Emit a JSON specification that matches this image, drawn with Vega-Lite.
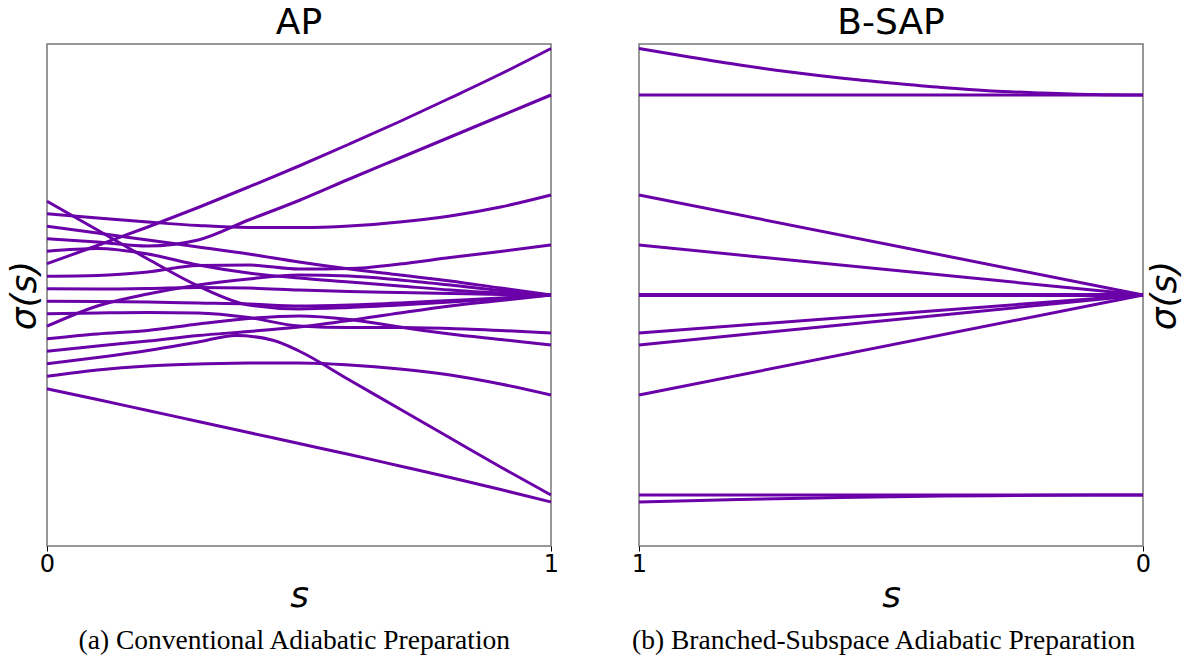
{
  "$schema": "https://vega.github.io/schema/vega-lite/v6.json",
  "background": "white",
  "padding": {"left": 5, "top": 3, "right": 2, "bottom": 2},
  "spacing": 70,
  "config": {
    "view": {"stroke": "#777", "strokeWidth": 1.5},
    "font": "DejaVu Sans",
    "title": {"font": "DejaVu Sans", "fontSize": 36, "fontWeight": "normal", "color": "#000"},
    "axis": {"grid": false, "domain": false, "labelFont": "DejaVu Sans", "titleFont": "DejaVu Sans", "labelColor": "#000", "titleColor": "#000", "titleFontWeight": "normal"}
  },
  "datasets": {
    "ap": [
      {"k":"L1","s":0,"v":1.875},{"k":"L1","s":0.1,"v":1.30},{"k":"L1","s":0.2,"v":0.72},{"k":"L1","s":0.3,"v":0.18},{"k":"L1","s":0.4,"v":-0.20},{"k":"L1","s":0.5,"v":-0.28},{"k":"L1","s":0.6,"v":-0.25},{"k":"L1","s":0.7,"v":-0.20},{"k":"L1","s":0.8,"v":-0.14},{"k":"L1","s":0.9,"v":-0.07},{"k":"L1","s":1,"v":0},
      {"k":"L2","s":0,"v":1.625},{"k":"L2","s":0.1,"v":1.54},{"k":"L2","s":0.2,"v":1.46},{"k":"L2","s":0.3,"v":1.39},{"k":"L2","s":0.4,"v":1.35},{"k":"L2","s":0.5,"v":1.35},{"k":"L2","s":0.6,"v":1.38},{"k":"L2","s":0.7,"v":1.46},{"k":"L2","s":0.8,"v":1.58},{"k":"L2","s":0.9,"v":1.76},{"k":"L2","s":1,"v":2.0},
      {"k":"L3","s":0,"v":1.375},{"k":"L3","s":0.1,"v":1.24},{"k":"L3","s":0.2,"v":1.10},{"k":"L3","s":0.3,"v":0.96},{"k":"L3","s":0.4,"v":0.82},{"k":"L3","s":0.5,"v":0.66},{"k":"L3","s":0.6,"v":0.52},{"k":"L3","s":0.7,"v":0.40},{"k":"L3","s":0.8,"v":0.28},{"k":"L3","s":0.9,"v":0.14},{"k":"L3","s":1,"v":0},
      {"k":"L4","s":0,"v":1.125},{"k":"L4","s":0.1,"v":1.06},{"k":"L4","s":0.2,"v":0.98},{"k":"L4","s":0.3,"v":1.10},{"k":"L4","s":0.4,"v":1.50},{"k":"L4","s":0.5,"v":1.89},{"k":"L4","s":0.6,"v":2.32},{"k":"L4","s":0.7,"v":2.74},{"k":"L4","s":0.8,"v":3.16},{"k":"L4","s":0.9,"v":3.58},{"k":"L4","s":1,"v":4.0},
      {"k":"L5","s":0,"v":0.875},{"k":"L5","s":0.1,"v":0.93},{"k":"L5","s":0.2,"v":0.82},{"k":"L5","s":0.3,"v":0.60},{"k":"L5","s":0.4,"v":0.44},{"k":"L5","s":0.5,"v":0.34},{"k":"L5","s":0.6,"v":0.26},{"k":"L5","s":0.7,"v":0.18},{"k":"L5","s":0.8,"v":0.10},{"k":"L5","s":0.9,"v":0.04},{"k":"L5","s":1,"v":0},
      {"k":"L6","s":0,"v":0.625},{"k":"L6","s":0.1,"v":0.99},{"k":"L6","s":0.2,"v":1.36},{"k":"L6","s":0.3,"v":1.75},{"k":"L6","s":0.4,"v":2.16},{"k":"L6","s":0.5,"v":2.58},{"k":"L6","s":0.6,"v":3.02},{"k":"L6","s":0.7,"v":3.47},{"k":"L6","s":0.8,"v":3.94},{"k":"L6","s":0.9,"v":4.42},{"k":"L6","s":1,"v":4.93},
      {"k":"L7","s":0,"v":0.375},{"k":"L7","s":0.1,"v":0.39},{"k":"L7","s":0.2,"v":0.46},{"k":"L7","s":0.3,"v":0.59},{"k":"L7","s":0.4,"v":0.60},{"k":"L7","s":0.5,"v":0.52},{"k":"L7","s":0.6,"v":0.53},{"k":"L7","s":0.7,"v":0.62},{"k":"L7","s":0.8,"v":0.75},{"k":"L7","s":0.9,"v":0.87},{"k":"L7","s":1,"v":1.0},
      {"k":"L8","s":0,"v":0.125},{"k":"L8","s":0.1,"v":0.12},{"k":"L8","s":0.2,"v":0.13},{"k":"L8","s":0.3,"v":0.15},{"k":"L8","s":0.4,"v":0.14},{"k":"L8","s":0.5,"v":0.10},{"k":"L8","s":0.6,"v":0.07},{"k":"L8","s":0.7,"v":0.05},{"k":"L8","s":0.8,"v":0.03},{"k":"L8","s":0.9,"v":0.01},{"k":"L8","s":1,"v":0},
      {"k":"L9","s":0,"v":-0.125},{"k":"L9","s":0.1,"v":-0.13},{"k":"L9","s":0.2,"v":-0.14},{"k":"L9","s":0.3,"v":-0.16},{"k":"L9","s":0.4,"v":-0.18},{"k":"L9","s":0.5,"v":-0.22},{"k":"L9","s":0.6,"v":-0.20},{"k":"L9","s":0.7,"v":-0.16},{"k":"L9","s":0.8,"v":-0.11},{"k":"L9","s":0.9,"v":-0.06},{"k":"L9","s":1,"v":0},
      {"k":"L10","s":0,"v":-0.375},{"k":"L10","s":0.1,"v":-0.36},{"k":"L10","s":0.2,"v":-0.35},{"k":"L10","s":0.3,"v":-0.36},{"k":"L10","s":0.4,"v":-0.45},{"k":"L10","s":0.5,"v":-0.62},{"k":"L10","s":0.6,"v":-0.65},{"k":"L10","s":0.7,"v":-0.65},{"k":"L10","s":0.8,"v":-0.67},{"k":"L10","s":0.9,"v":-0.71},{"k":"L10","s":1,"v":-0.76},
      {"k":"L11","s":0,"v":-0.625},{"k":"L11","s":0.1,"v":-0.22},{"k":"L11","s":0.2,"v":0.02},{"k":"L11","s":0.3,"v":0.20},{"k":"L11","s":0.4,"v":0.32},{"k":"L11","s":0.5,"v":0.40},{"k":"L11","s":0.6,"v":0.38},{"k":"L11","s":0.7,"v":0.30},{"k":"L11","s":0.8,"v":0.20},{"k":"L11","s":0.9,"v":0.09},{"k":"L11","s":1,"v":0},
      {"k":"L12","s":0,"v":-0.875},{"k":"L12","s":0.1,"v":-0.78},{"k":"L12","s":0.2,"v":-0.71},{"k":"L12","s":0.3,"v":-0.58},{"k":"L12","s":0.4,"v":-0.47},{"k":"L12","s":0.5,"v":-0.42},{"k":"L12","s":0.6,"v":-0.49},{"k":"L12","s":0.7,"v":-0.64},{"k":"L12","s":0.8,"v":-0.78},{"k":"L12","s":0.9,"v":-0.89},{"k":"L12","s":1,"v":-1.0},
      {"k":"L13","s":0,"v":-1.125},{"k":"L13","s":0.1,"v":-1.02},{"k":"L13","s":0.2,"v":-0.92},{"k":"L13","s":0.3,"v":-0.81},{"k":"L13","s":0.4,"v":-0.73},{"k":"L13","s":0.5,"v":-0.64},{"k":"L13","s":0.6,"v":-0.51},{"k":"L13","s":0.7,"v":-0.36},{"k":"L13","s":0.8,"v":-0.22},{"k":"L13","s":0.9,"v":-0.11},{"k":"L13","s":1,"v":0},
      {"k":"L14","s":0,"v":-1.375},{"k":"L14","s":0.1,"v":-1.25},{"k":"L14","s":0.2,"v":-1.11},{"k":"L14","s":0.3,"v":-0.94},{"k":"L14","s":0.375,"v":-0.81},{"k":"L14","s":0.45,"v":-0.91},{"k":"L14","s":0.5,"v":-1.12},{"k":"L14","s":0.6,"v":-1.70},{"k":"L14","s":0.7,"v":-2.28},{"k":"L14","s":0.8,"v":-2.86},{"k":"L14","s":0.9,"v":-3.44},{"k":"L14","s":1,"v":-4.0},
      {"k":"L15","s":0,"v":-1.625},{"k":"L15","s":0.1,"v":-1.50},{"k":"L15","s":0.2,"v":-1.42},{"k":"L15","s":0.3,"v":-1.38},{"k":"L15","s":0.4,"v":-1.36},{"k":"L15","s":0.5,"v":-1.36},{"k":"L15","s":0.6,"v":-1.40},{"k":"L15","s":0.7,"v":-1.48},{"k":"L15","s":0.8,"v":-1.60},{"k":"L15","s":0.9,"v":-1.78},{"k":"L15","s":1,"v":-2.0},
      {"k":"L16","s":0,"v":-1.875},{"k":"L16","s":0.1,"v":-2.09},{"k":"L16","s":0.2,"v":-2.31},{"k":"L16","s":0.3,"v":-2.53},{"k":"L16","s":0.4,"v":-2.75},{"k":"L16","s":0.5,"v":-2.97},{"k":"L16","s":0.6,"v":-3.19},{"k":"L16","s":0.7,"v":-3.42},{"k":"L16","s":0.8,"v":-3.65},{"k":"L16","s":0.9,"v":-3.89},{"k":"L16","s":1,"v":-4.14}
    ],
    "bsap": [
      {"k":"T","s":0,"v":4.0},{"k":"T","s":0.1,"v":4.01},{"k":"T","s":0.2,"v":4.04},{"k":"T","s":0.3,"v":4.08},{"k":"T","s":0.4,"v":4.15},{"k":"T","s":0.5,"v":4.24},{"k":"T","s":0.6,"v":4.34},{"k":"T","s":0.7,"v":4.46},{"k":"T","s":0.8,"v":4.60},{"k":"T","s":0.9,"v":4.76},{"k":"T","s":1,"v":4.93},
      {"k":"C4","s":0,"v":4.0},{"k":"C4","s":1,"v":4.0},
      {"k":"F1","s":0,"v":0},{"k":"F1","s":1,"v":2.0},
      {"k":"F2","s":0,"v":0},{"k":"F2","s":1,"v":1.0},
      {"k":"F3","s":0,"v":0},{"k":"F3","s":1,"v":0},
      {"k":"F4","s":0,"v":0},{"k":"F4","s":1,"v":0},
      {"k":"F5","s":0,"v":0},{"k":"F5","s":1,"v":0},
      {"k":"F6","s":0,"v":0},{"k":"F6","s":1,"v":0},
      {"k":"F7","s":0,"v":0},{"k":"F7","s":1,"v":0},
      {"k":"F8","s":0,"v":0},{"k":"F8","s":1,"v":0},
      {"k":"F9","s":0,"v":0},{"k":"F9","s":1,"v":0},
      {"k":"F10","s":0,"v":0},{"k":"F10","s":1,"v":-0.76},
      {"k":"F11","s":0,"v":0},{"k":"F11","s":1,"v":-1.0},
      {"k":"F12","s":0,"v":0},{"k":"F12","s":1,"v":-2.0},
      {"k":"B1","s":0,"v":-4.0},{"k":"B1","s":1,"v":-4.0},
      {"k":"B2","s":0,"v":-4.0},{"k":"B2","s":0.1,"v":-4.0014},{"k":"B2","s":0.2,"v":-4.006},{"k":"B2","s":0.3,"v":-4.013},{"k":"B2","s":0.4,"v":-4.022},{"k":"B2","s":0.5,"v":-4.035},{"k":"B2","s":0.6,"v":-4.05},{"k":"B2","s":0.7,"v":-4.069},{"k":"B2","s":0.8,"v":-4.09},{"k":"B2","s":0.9,"v":-4.113},{"k":"B2","s":1,"v":-4.14}
    ]
  },
  "hconcat": [
    {
      "title": {"text": "(a) Conventional Adiabatic Preparation", "orient": "bottom", "anchor": "middle", "font": "Liberation Serif", "fontSize": 27.5, "fontWeight": "normal", "offset": 13, "dx": 12},
      "vconcat": [
        {
          "title": {"text": "AP", "offset": 1},
          "width": 504,
          "height": 502,
          "data": {"name": "ap"},
          "mark": {"type": "line", "interpolate": "monotone", "color": "#6a00a8", "strokeWidth": 3},
          "encoding": {
            "x": {"field": "s", "type": "quantitative", "scale": {"domain": [0, 1], "nice": false},
                  "axis": {"values": [0, 1], "format": "d", "title": "s", "labelFontSize": 24, "labelFlush": false, "tickSize": 5, "tickColor": "#000", "labelPadding": 1, "titleFontSize": 36, "titleFontStyle": "italic", "titlePadding": 2}},
            "y": {"field": "v", "type": "quantitative", "scale": {"domain": [-5.02, 5.02], "nice": false, "zero": false},
                  "axis": {"orient": "left", "labels": false, "ticks": false, "title": "σ(s)", "titleFontSize": 36, "titleFontStyle": "italic", "titlePadding": 4}},
            "detail": {"field": "k"}
          }
        }
      ]
    },
    {
      "title": {"text": "(b) Branched-Subspace Adiabatic Preparation", "orient": "bottom", "anchor": "middle", "font": "Liberation Serif", "fontSize": 27.5, "fontWeight": "normal", "offset": 13, "dx": -23},
      "vconcat": [
        {
          "title": {"text": "B-SAP", "offset": 1},
          "width": 504,
          "height": 502,
          "data": {"name": "bsap"},
          "mark": {"type": "line", "interpolate": "monotone", "color": "#6a00a8", "strokeWidth": 3},
          "encoding": {
            "x": {"field": "s", "type": "quantitative", "scale": {"domain": [0, 1], "nice": false, "reverse": true},
                  "axis": {"values": [0, 1], "format": "d", "title": "s", "labelFontSize": 24, "labelFlush": false, "tickSize": 5, "tickColor": "#000", "labelPadding": 1, "titleFontSize": 36, "titleFontStyle": "italic", "titlePadding": 2}},
            "y": {"field": "v", "type": "quantitative", "scale": {"domain": [-5.02, 5.02], "nice": false, "zero": false},
                  "axis": {"orient": "right", "labels": false, "ticks": false, "title": "σ(s)", "titleAngle": 270, "titleBaseline": "top", "titleFontSize": 36, "titleFontStyle": "italic", "titlePadding": 4}},
            "detail": {"field": "k"}
          }
        }
      ]
    }
  ]
}
